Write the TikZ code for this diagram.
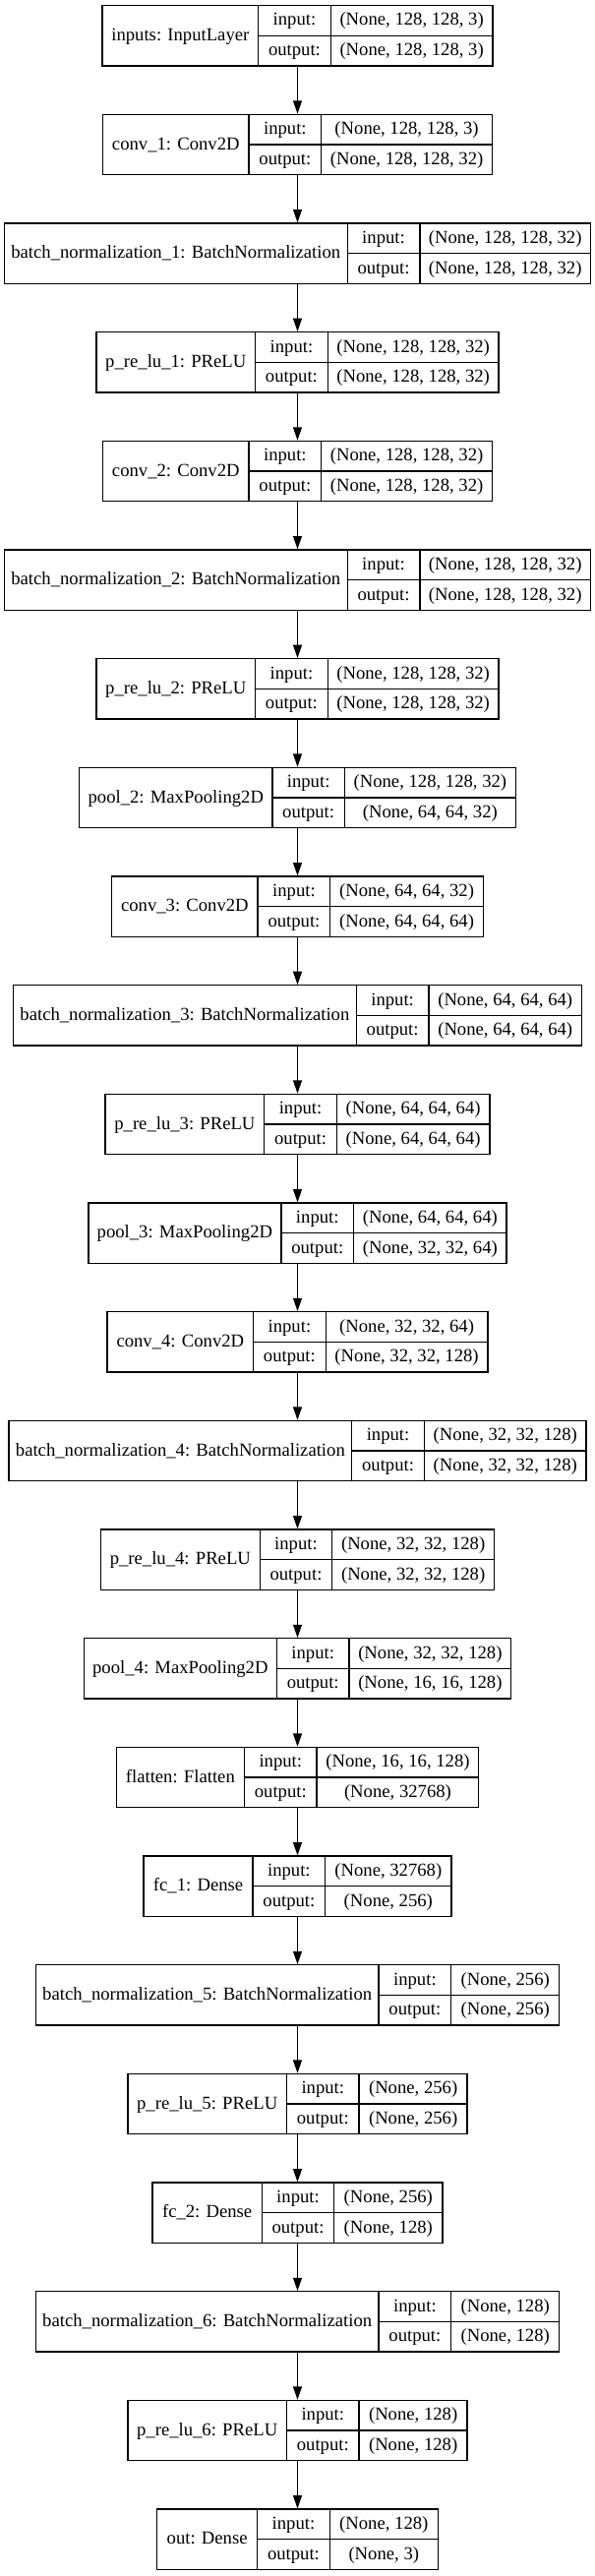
\documentclass[tikz,border=0pt]{standalone}
\usepackage{fontspec}
\setmainfont{Liberation Serif}
\usetikzlibrary{arrows.meta,calc}
\newlength\kwn \newlength\kwl \newlength\kwv \newlength\kwt
\newcommand\kfont{\fontsize{14pt}{16pt}\selectfont}
\tikzset{
  layer/.style={draw, rectangle, line width=1pt, inner sep=0pt, minimum height=45.975pt},
  sepline/.style={line width=1pt},
  txt/.style={anchor=base, inner sep=0pt, font=\kfont},
  arr/.style={line width=1pt, -{Triangle[length=10pt,width=6.67pt]}}
}
% measure the fields outside the picture
\newcommand\kprep[5]{%
  \settowidth\kwn{\kfont #3}%
  \settowidth\kwl{\kfont output:}%
  \settowidth\kwv{\kfont #4}\settowidth\kwt{\kfont #5}%
  \ifdim\kwt>\kwv \kwv=\kwt\fi
  \kwn=0.976\kwn \advance\kwn by 16.5pt
  \kwl=0.976\kwl \advance\kwl by 16.5pt
  \kwv=0.976\kwv \advance\kwv by 16.5pt
  \expandafter\xdef\csname kn@#1\endcsname{\the\kwn}%
  \expandafter\xdef\csname kl@#1\endcsname{\the\kwl}%
  \expandafter\xdef\csname kv@#1\endcsname{\the\kwv}%
}
% draw one layer box inside the picture
\newcommand\kbox[5]{%
  \kwn=\csname kn@#1\endcsname\relax
  \kwl=\csname kl@#1\endcsname\relax
  \kwv=\csname kv@#1\endcsname\relax
  \kwt=\kwn \advance\kwt by \kwl \advance\kwt by \kwv
  \pgfmathsetmacro\ktop{5.7+#2*110.67}%
  \pgfmathsetmacro\kbot{\ktop+61.3}%
  \pgfmathsetmacro\kmid{\ktop+30.65}%
  \pgfmathsetmacro\kl{302.5-\kwt/1.5}%
  \pgfmathsetmacro\ka{\kl+\kwn/0.75}%
  \pgfmathsetmacro\kb{\ka+\kwl/0.75}%
  \pgfmathsetmacro\kr{302.5+\kwt/1.5}%
  \node[layer, minimum width=\kwt] (#1) at (302.5,\kmid) {};
  \draw[sepline] (\ka,\ktop) -- (\ka,\kbot);
  \draw[sepline] (\kb,\ktop) -- (\kb,\kbot);
  \draw[sepline] (\ka,\kmid) -- (\kr,\kmid);
  \node[txt] (#1-name) at ({(\kl+\ka)/2},{\kmid+5}) {#3};
  \node[txt] (#1-il) at ({(\ka+\kb)/2},{\ktop+20.3}) {input:};
  \node[txt] (#1-ol) at ({(\ka+\kb)/2},{\ktop+51}) {output:};
  \node[txt] (#1-iv) at ({(\kb+\kr)/2},{\ktop+20.3}) {#4};
  \node[txt] (#1-ov) at ({(\kb+\kr)/2},{\ktop+51}) {#5};
}
\newcommand\klayers[1]{%
#1{n1}{0}{inputs: InputLayer}{(None, 128, 128, 3)}{(None, 128, 128, 3)}%
#1{n2}{1}{conv\_1: Conv2D}{(None, 128, 128, 3)}{(None, 128, 128, 32)}%
#1{n3}{2}{batch\_normalization\_1: BatchNormalization}{(None, 128, 128, 32)}{(None, 128, 128, 32)}%
#1{n4}{3}{p\_re\_lu\_1: PReLU}{(None, 128, 128, 32)}{(None, 128, 128, 32)}%
#1{n5}{4}{conv\_2: Conv2D}{(None, 128, 128, 32)}{(None, 128, 128, 32)}%
#1{n6}{5}{batch\_normalization\_2: BatchNormalization}{(None, 128, 128, 32)}{(None, 128, 128, 32)}%
#1{n7}{6}{p\_re\_lu\_2: PReLU}{(None, 128, 128, 32)}{(None, 128, 128, 32)}%
#1{n8}{7}{pool\_2: MaxPooling2D}{(None, 128, 128, 32)}{(None, 64, 64, 32)}%
#1{n9}{8}{conv\_3: Conv2D}{(None, 64, 64, 32)}{(None, 64, 64, 64)}%
#1{n10}{9}{batch\_normalization\_3: BatchNormalization}{(None, 64, 64, 64)}{(None, 64, 64, 64)}%
#1{n11}{10}{p\_re\_lu\_3: PReLU}{(None, 64, 64, 64)}{(None, 64, 64, 64)}%
#1{n12}{11}{pool\_3: MaxPooling2D}{(None, 64, 64, 64)}{(None, 32, 32, 64)}%
#1{n13}{12}{conv\_4: Conv2D}{(None, 32, 32, 64)}{(None, 32, 32, 128)}%
#1{n14}{13}{batch\_normalization\_4: BatchNormalization}{(None, 32, 32, 128)}{(None, 32, 32, 128)}%
#1{n15}{14}{p\_re\_lu\_4: PReLU}{(None, 32, 32, 128)}{(None, 32, 32, 128)}%
#1{n16}{15}{pool\_4: MaxPooling2D}{(None, 32, 32, 128)}{(None, 16, 16, 128)}%
#1{n17}{16}{flatten: Flatten}{(None, 16, 16, 128)}{(None, 32768)}%
#1{n18}{17}{fc\_1: Dense}{(None, 32768)}{(None, 256)}%
#1{n19}{18}{batch\_normalization\_5: BatchNormalization}{(None, 256)}{(None, 256)}%
#1{n20}{19}{p\_re\_lu\_5: PReLU}{(None, 256)}{(None, 256)}%
#1{n21}{20}{fc\_2: Dense}{(None, 256)}{(None, 128)}%
#1{n22}{21}{batch\_normalization\_6: BatchNormalization}{(None, 128)}{(None, 128)}%
#1{n23}{22}{p\_re\_lu\_6: PReLU}{(None, 128)}{(None, 128)}%
#1{n24}{23}{out: Dense}{(None, 128)}{(None, 3)}%
}
\begin{document}%
\klayers\kprep%
\begin{tikzpicture}[x=0.75pt,y=-0.75pt]
\path[use as bounding box, fill=white] (0,0) rectangle (605,2619);
\klayers\kbox
\foreach \i [evaluate=\i as \j using int(\i+1)] in {1,...,23}
  \draw[arr] (n\i) -- (n\j);
\end{tikzpicture}
\end{document}
